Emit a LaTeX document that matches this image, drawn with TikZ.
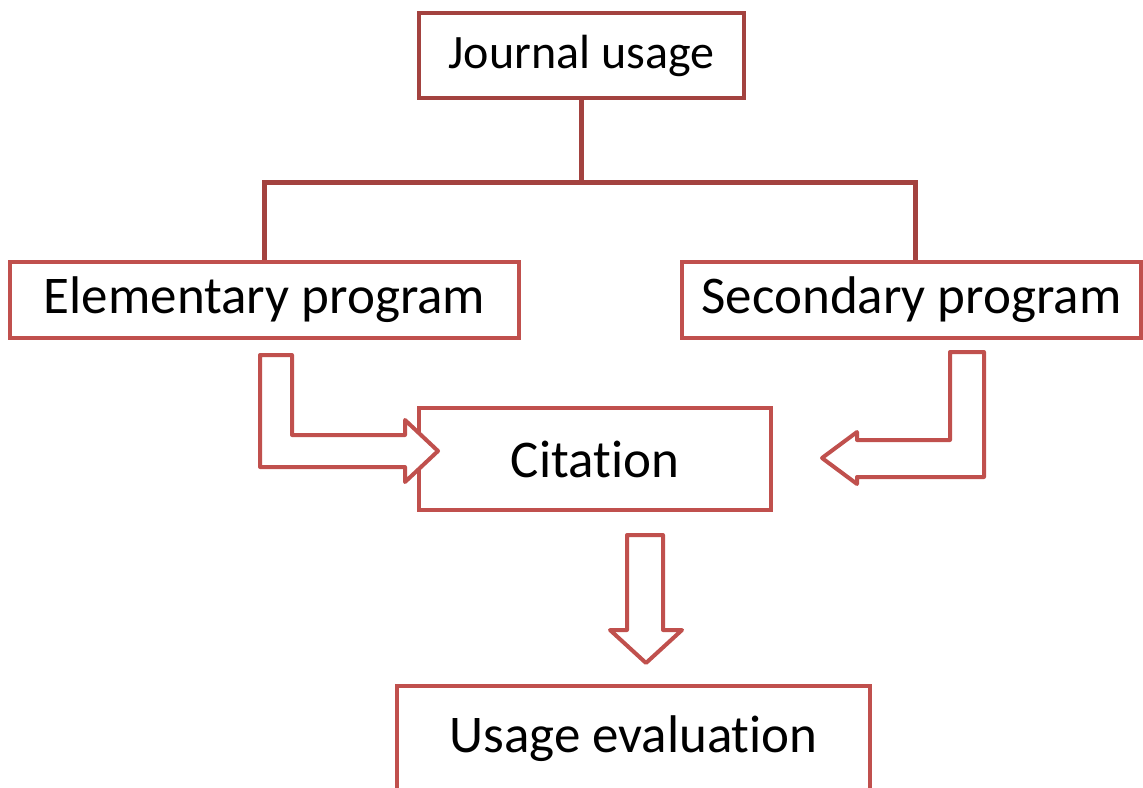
\documentclass[tikz,border=0pt]{standalone}
\usepackage{fontspec}
\setmainfont[Ligatures=NoCommon]{Carlito}
\definecolor{boxred}{HTML}{C0504D}
\definecolor{linered}{HTML}{A3423F}
\tikzset{
  box/.style={draw=boxred,line width=4pt,fill=white,inner sep=0pt,font=\fontsize{53}{62}\selectfont},
  blockarrow/.style={draw=boxred,line width=4pt,line join=round,fill=white}
}
\begin{document}
\begin{tikzpicture}[x=1pt,y=-1pt]
                            \clip (0,0) rectangle (1143,787);

                            % Boxes
                            \node[box,draw=linered,minimum width=325pt,minimum height=85pt,font=\fontsize{48}{56}\selectfont] (journal) at (581.5,55.5) {Journal usage};
                            \node[box,minimum width=509pt,minimum height=76pt] (elem) at (264.5,300) {Elementary program};
                            \node[box,minimum width=459pt,minimum height=76pt] (second) at (911.5,300) {Secondary program};
                            \node[box,minimum width=352pt,minimum height=102pt] (citation) at (595,459) {Citation};
                            \node[box,minimum width=473pt,minimum height=120pt,text depth=24pt] (usage) at (633.5,746) {Usage evaluation};

                            % Tree lines
                            \draw[linered,line width=5pt] (journal.south) -- ++(0,82) coordinate (fork);
                            \draw[linered,line width=5pt] (elem.north) |- (fork) -| ([xshift=3.5pt]second.north);

                            % Block arrows
                            \draw[blockarrow] (260,355) -- (292,355) -- (292,435) -- (405,435) -- (405,420)
                            -- (438,451) -- (405,482) -- (405,467) -- (260,467) -- cycle;
                            \draw[blockarrow] (950,352) -- (984,352) -- (984,477) -- (857,477) -- (857,484)
                            -- (822,458) -- (857,432) -- (857,440) -- (950,440) -- cycle;
                            \draw[blockarrow] (627,535) -- (663,535) -- (663,630) -- (682,630)
                            -- (646,663) -- (610,630) -- (627,630) -- cycle;

                      \end{tikzpicture}
\end{document}
